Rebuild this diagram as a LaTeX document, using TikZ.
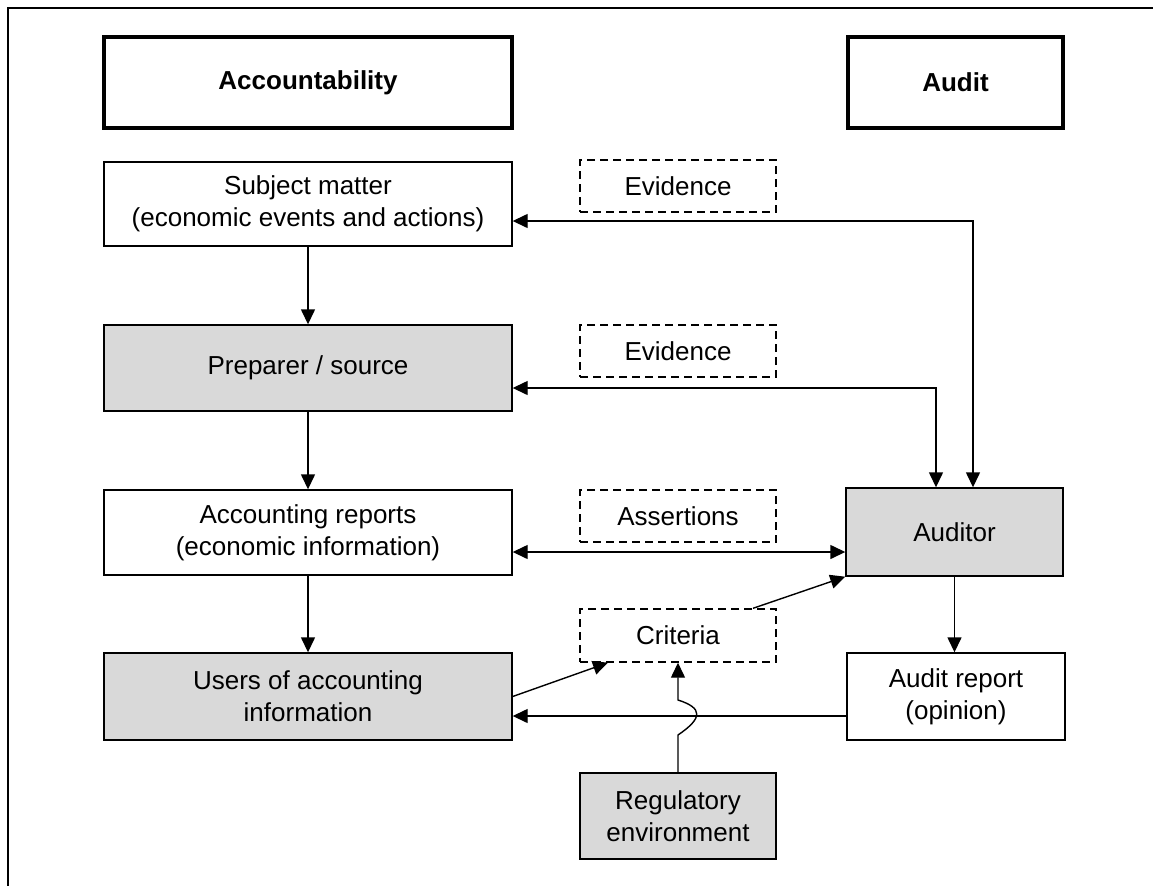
\documentclass[tikz,border=0pt]{standalone}
\usepackage{fontspec}
\setmainfont{Liberation Sans}
\usetikzlibrary{arrows.meta,calc}

\tikzset{
  base/.style={draw=black, rectangle, align=center, inner sep=0pt,
    font=\fontsize{13}{16}\selectfont},
  box/.style={base, line width=0.7pt, fill=white},
  shaded/.style={base, line width=0.7pt, fill=black!15},
  header/.style={base, line width=1.6pt, font=\fontsize{13}{16}\selectfont\bfseries},
  dashbox/.style={base, line width=0.7pt, dash pattern=on 4pt off 2.5pt},
  tip/.style={Triangle[length=7.5pt,width=7pt]},
  conn/.style={line width=0.7pt, -{Triangle[length=7.5pt,width=7pt]}},
  conn2/.style={line width=0.7pt, {Triangle[length=7.5pt,width=7pt]}-{Triangle[length=7.5pt,width=7pt]}},
}

\begin{document}
\begin{tikzpicture}[x=0.5pt,y=-0.5pt]
  \useasboundingbox (0,0) rectangle (1153,885);

  % open frame: top and left sides only
  \draw[line width=1pt] (8,890) -- (8,8) -- (1160,8);

  % column headings
  \node[header, minimum width=204pt, minimum height=45.5pt] (hacc) at (308,82.5) {Accountability};
  \node[header, minimum width=107.5pt, minimum height=45.5pt] (haud) at (955.5,82.5) {Audit};

  % accountability chain
  \node[box, minimum width=204pt, minimum height=42pt] (subj) at (308,204)
    {Subject matter\\(economic events and actions)};
  \node[shaded, minimum width=204pt, minimum height=43pt] (prep) at (308,368)
    {Preparer / source};
  \node[box, minimum width=204pt, minimum height=42.5pt] (acc) at (308,532.5)
    {Accounting reports\\(economic information)};
  \node[shaded, minimum width=204pt, minimum height=43.5pt] (users) at (308,696.5)
    {Users of accounting\\information};

  % audit side
  \node[shaded, minimum width=108.5pt, minimum height=44pt] (aud) at (954.5,532) {Auditor};
  \node[box, minimum width=109pt, minimum height=43.5pt] (rep) at (956,696.5)
    {Audit report\\(opinion)};
  \node[shaded, minimum width=98pt, minimum height=43pt] (reg) at (678,816)
    {Regulatory\\environment};

  % dashed labels between the columns
  \node[dashbox, minimum width=98pt, minimum height=26pt] (ev1) at (678,186) {Evidence};
  \node[dashbox, minimum width=98pt, minimum height=26pt] (ev2) at (678,351) {Evidence};
  \node[dashbox, minimum width=98pt, minimum height=26pt] (asr) at (678,516) {Assertions};
  \node[dashbox, minimum width=98pt, minimum height=26.5pt] (crit) at (678,635.5) {Criteria};

  % routing points
  \coordinate (e1) at (973,221);
  \coordinate (e2) at (936,388);
  \coordinate (as) at (0,552);
  \coordinate (cr) at (753,0);
  \coordinate (uc) at (608,0);
  \coordinate (ru) at (0,716);

  % vertical flow
  \draw[conn] (subj) -- (prep);
  \draw[conn] (prep) -- (acc);
  \draw[conn] (acc) -- (users);
  \draw[conn] (aud.south) -- (aud.south |- rep.north);

  % evidence and assertions links
  \draw[conn2] (subj.east |- e1) -| (aud.north -| e1);
  \draw[conn2] (prep.east |- e2) -| (aud.north -| e2);
  \draw[conn2] (acc.east |- as) -- (aud.west |- as);

  % criteria links
  \draw[conn] (crit.north -| cr) -- (aud.south west);
  \draw[conn] (users.east) -- (crit.south -| uc);
  \draw[conn] (rep.west |- ru) -- (users.east |- ru);

  % regulatory environment, hopping over the report line
  \draw[conn] (reg.north) -- (678,735)
    .. controls (703,718) and (703,708) .. (678,700) -- (crit.south);
\end{tikzpicture}
\end{document}
